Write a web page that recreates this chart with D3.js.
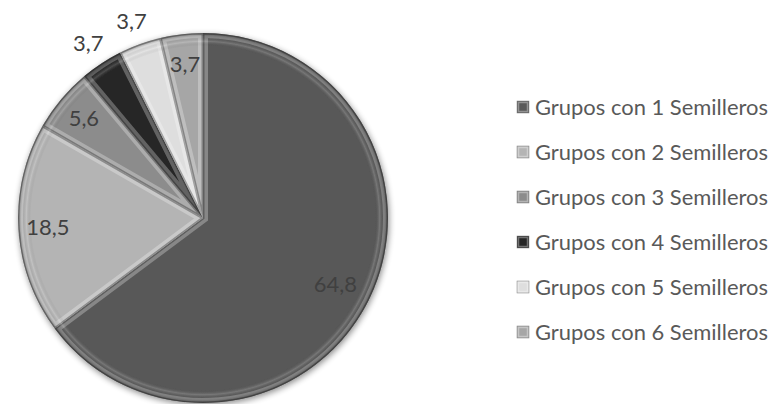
<!DOCTYPE html>
<html lang="es">
<head>
<meta charset="UTF-8">
<title>Grupos con Semilleros</title>
<script src="https://cdnjs.cloudflare.com/ajax/libs/d3/7.8.5/d3.min.js"></script>
<style>
  body { margin: 0; background: #ffffff; font-family: Lato, "Open Sans", sans-serif; }
  svg { display: block; }
</style>
</head>
<body>
<div id="chart"></div>
<script>
const categories = [
  "Grupos con 1 Semilleros",
  "Grupos con 2 Semilleros",
  "Grupos con 3 Semilleros",
  "Grupos con 4 Semilleros",
  "Grupos con 5 Semilleros",
  "Grupos con 6 Semilleros"
];
const values = [64.8, 18.5, 5.6, 3.7, 3.7, 3.7];
const labels = ["64,8", "18,5", "5,6", "3,7", "3,7", "3,7"];
const colors = ["#595959", "#b4b4b4", "#8c8c8c", "#262626", "#dedede", "#a6a6a6"];

const width = 773, height = 404;
const cx = 203, cy = 218, radius = 185;

const svg = d3.select("#chart").append("svg")
  .attr("width", width)
  .attr("height", height);

const defs = svg.append("defs");

// soft shadow round the pie
const shadow = defs.append("filter").attr("id", "shadow")
  .attr("x", "-10%").attr("y", "-10%").attr("width", "120%").attr("height", "120%");
shadow.append("feGaussianBlur").attr("in", "SourceAlpha").attr("stdDeviation", 3);
shadow.append("feOffset").attr("dx", 1).attr("dy", 2).attr("result", "b");
shadow.append("feComponentTransfer").append("feFuncA").attr("type", "linear").attr("slope", 0.45);
const merge = shadow.append("feMerge");
merge.append("feMergeNode");
merge.append("feMergeNode").attr("in", "SourceGraphic");

// rim shading
const rim = defs.append("radialGradient").attr("id", "rim")
  .attr("gradientUnits", "userSpaceOnUse")
  .attr("cx", 0).attr("cy", 0).attr("r", radius);
rim.append("stop").attr("offset", "0%").attr("stop-color", "#000").attr("stop-opacity", 0);
rim.append("stop").attr("offset", "93%").attr("stop-color", "#000").attr("stop-opacity", 0);
rim.append("stop").attr("offset", "95.5%").attr("stop-color", "#fff").attr("stop-opacity", 0.18);
rim.append("stop").attr("offset", "98%").attr("stop-color", "#000").attr("stop-opacity", 0.05);
rim.append("stop").attr("offset", "100%").attr("stop-color", "#000").attr("stop-opacity", 0.35);

const pie = d3.pie().sort(null).startAngle(0).endAngle(2 * Math.PI)(values);
const arc = d3.arc().innerRadius(0).outerRadius(radius);

const g = svg.append("g").attr("transform", `translate(${cx},${cy})`);

const slices = g.append("g").attr("filter", "url(#shadow)");

pie.forEach((d, i) => {
  defs.append("clipPath").attr("id", "clip" + i)
    .append("path").attr("d", arc(d));
});

const sl = slices.selectAll("g.slice")
  .data(pie)
  .join("g")
  .attr("class", "slice");

sl.append("path")
  .attr("d", arc)
  .attr("fill", (d, i) => colors[i]);

// bevel: light inner edge, darker outline
sl.append("path")
  .attr("d", arc)
  .attr("clip-path", (d, i) => `url(#clip${i})`)
  .attr("fill", "none")
  .attr("stroke", "#ffffff")
  .attr("stroke-opacity", 0.28)
  .attr("stroke-width", 10)
  .attr("stroke-linejoin", "miter");

sl.append("path")
  .attr("d", arc)
  .attr("clip-path", (d, i) => `url(#clip${i})`)
  .attr("fill", "none")
  .attr("stroke", "#000000")
  .attr("stroke-opacity", 0.3)
  .attr("stroke-width", 3);

slices.append("circle")
  .attr("r", radius)
  .attr("fill", "url(#rim)");

// data labels
const outside = [false, false, false, true, true, false];
const labelArc = d3.arc().innerRadius(radius * 0.84).outerRadius(radius * 0.84);
const outArc = d3.arc().innerRadius(radius * 1.13).outerRadius(radius * 1.13);
const insideArc64 = d3.arc().innerRadius(radius * 0.8).outerRadius(radius * 0.8);

// legend
const legend = svg.append("g").attr("transform", "translate(517,107)");
const rowH = 45;
const item = legend.selectAll("g")
  .data(categories)
  .join("g")
  .attr("transform", (d, i) => `translate(0,${i * rowH})`);

item.append("rect")
  .attr("x", 0).attr("y", -6)
  .attr("width", 12).attr("height", 12)
  .attr("fill", (d, i) => colors[i])
  .attr("stroke", "#7f7f7f")
  .attr("stroke-width", 0.5);

item.append("rect")
  .attr("x", 1.5).attr("y", -4.5)
  .attr("width", 9).attr("height", 9)
  .attr("fill", "none")
  .attr("stroke", "#ffffff")
  .attr("stroke-opacity", 0.35)
  .attr("stroke-width", 1.5);

const legText = item.append("text")
  .attr("x", 18)
  .attr("dy", "0.36em")
  .attr("fill", "#595959")
  .style("font-size", "20px")
  .text(d => d);

// fit font so the legend text width matches the reference
const measured = legText.node().getComputedTextLength();
const fontSize = 20 * 233 / measured;
legText.style("font-size", fontSize + "px");

g.selectAll("text.lbl")
  .data(pie)
  .join("text")
  .attr("class", "lbl")
  .attr("transform", (d, i) => {
    const a = outside[i] ? outArc : (i === 0 ? insideArc64 : labelArc);
    return `translate(${a.centroid(d)})`;
  })
  .attr("text-anchor", "middle")
  .attr("dy", "0.36em")
  .attr("fill", "#404040")
  .style("font-size", fontSize + "px")
  .text((d, i) => labels[i]);
</script>
</body>
</html>
